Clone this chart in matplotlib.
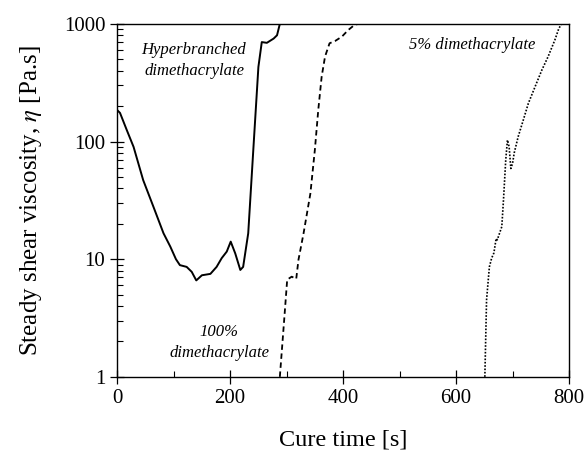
import matplotlib
matplotlib.use("Agg")
import matplotlib.pyplot as plt
from matplotlib.ticker import FixedLocator, LogLocator, NullFormatter

plt.rcParams['font.family'] = ['Liberation Serif', 'DejaVu Serif']
plt.rcParams['mathtext.fontset'] = 'stix'

# hyperbranched dimethacrylate (solid)
hb_time = [0, 5, 17, 29, 46, 64, 82, 94, 104, 111, 123, 132, 140, 150, 165, 176, 185, 194, 201,
           209, 218, 223, 232, 241, 250, 256, 265, 277, 283, 288]
hb_visc = [185, 175, 125, 90, 47, 28, 16.6, 12.8, 10, 8.9, 8.6, 7.8, 6.6, 7.3, 7.5, 8.6, 10.2, 11.6, 14.1,
           11.2, 8.1, 8.6, 16.6, 85, 430, 700, 690, 750, 800, 1000]

# 100% dimethacrylate (dashed)
d100_time = [288, 296, 301, 309, 317, 321, 330, 342, 350, 356, 362, 368, 376, 386, 398, 409, 418, 426]
d100_visc = [1, 3.2, 6.7, 7.1, 6.8, 9.9, 16.6, 36, 85, 185, 355, 527, 684, 716, 780, 886, 960, 1000]

# 5% dimethacrylate (dotted)
d5_time = [651, 654, 659, 663, 667, 671, 673, 677, 681, 684, 688, 691, 694, 697, 700, 703,
           710, 719, 728, 740, 752, 763, 775, 782, 787]
d5_visc = [1, 4.5, 8.6, 10.2, 11.3, 15, 14.6, 16.6, 18.9, 32, 70, 103, 90, 59, 65, 80,
           110, 152, 211, 293, 406, 527, 730, 915, 1000]

fig = plt.figure(figsize=(5.86, 4.59), dpi=100)
ax = fig.add_axes([0.2, 0.179, 0.771, 0.769])

ax.plot(hb_time, hb_visc, color='black', lw=1.4, ls='-')
ax.plot(d100_time, d100_visc, color='black', lw=1.3, ls=(0, (3, 2)))
ax.plot(d5_time, d5_visc, color='black', lw=1.2, ls=(0, (1, 1)))

ax.set_yscale('log')
ax.set_xlim(0, 800)
ax.set_ylim(1, 1000)

ax.xaxis.set_major_locator(FixedLocator([0, 200, 400, 600, 800]))
ax.xaxis.set_minor_locator(FixedLocator([100, 300, 500, 700]))
ax.yaxis.set_major_locator(FixedLocator([1, 10, 100, 1000]))
ax.yaxis.set_minor_locator(LogLocator(base=10, subs=range(2, 10)))
ax.yaxis.set_minor_formatter(NullFormatter())
ax.set_yticklabels(['1', '10', '100', '1000'])

ax.tick_params(which='major', direction='inout', length=10, width=0.9, labelsize=15, top=False, right=False)
ax.tick_params(which='minor', direction='in', length=4, width=0.8, top=False, right=False)
for s in ax.spines.values():
    s.set_linewidth(1.0)

ax.set_xlabel('Cure time [s]', fontsize=17.5, labelpad=16)
ax.set_ylabel('Steady shear viscosity, $\\eta$ [Pa.s]', fontsize=18, labelpad=14)

ax.text(136, 600, 'Hyperbranched', style='italic', fontsize=12, ha='center', va='center')
ax.text(136, 400, 'dimethacrylate', style='italic', fontsize=12, ha='center', va='center')
ax.text(180, 2.4, '100%', style='italic', fontsize=12, ha='center', va='center')
ax.text(182, 1.6, 'dimethacrylate', style='italic', fontsize=12, ha='center', va='center')
ax.text(628, 660, '5% dimethacrylate', style='italic', fontsize=12, ha='center', va='center')

fig.savefig('out.png', dpi=100)
